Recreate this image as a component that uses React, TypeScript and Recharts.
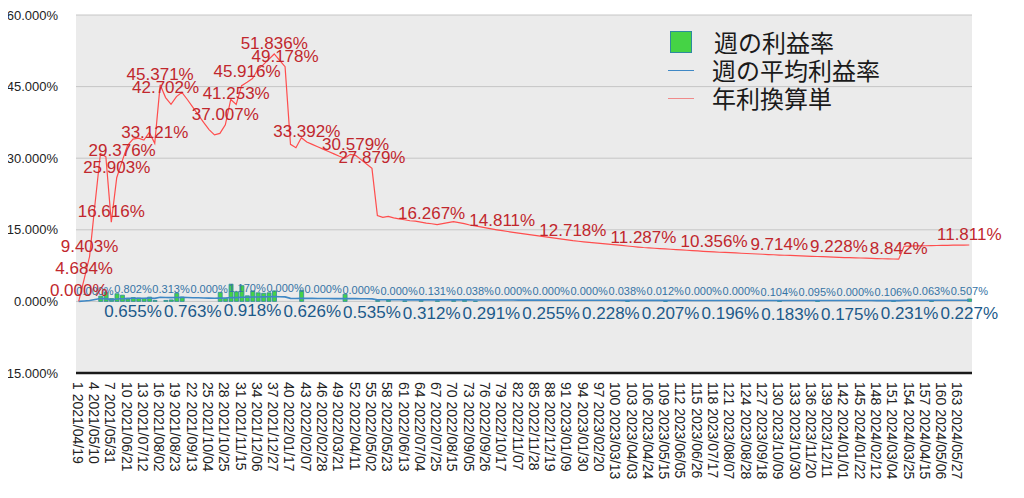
import React from 'react'
import { ComposedChart, Bar, Line, XAxis, YAxis, CartesianGrid, LabelList } from 'recharts'

// week numbers 1..165 are the categories; only every third one gets a tick label
const TICK_DATES = [
  '2021/04/19', '2021/05/10', '2021/05/31', '2021/06/21', '2021/07/12', '2021/08/02', '2021/08/23',
  '2021/09/13', '2021/10/04', '2021/10/25', '2021/11/15', '2021/12/06', '2021/12/27', '2022/01/17',
  '2022/02/07', '2022/02/28', '2022/03/21', '2022/04/11', '2022/05/02', '2022/05/23', '2022/06/13',
  '2022/07/04', '2022/07/25', '2022/08/15', '2022/09/05', '2022/09/26', '2022/10/17', '2022/11/07',
  '2022/11/28', '2022/12/19', '2023/01/09', '2023/01/30', '2023/02/20', '2023/03/13', '2023/04/03',
  '2023/04/24', '2023/05/15', '2023/06/05', '2023/06/26', '2023/07/17', '2023/08/07', '2023/08/28',
  '2023/09/18', '2023/10/09', '2023/10/30', '2023/11/20', '2023/12/11', '2024/01/01', '2024/01/22',
  '2024/02/12', '2024/03/04', '2024/03/25', '2024/04/15', '2024/05/06', '2024/05/27',
]

// 年利換算単 (%)
const ANNUAL = [
  0, 4.684, 9.403, 20.4, 31.0, 30.3, 16.616, 25.903, 29.376, 32.7,
  34.0, 34.2, 33.8, 35.4, 33.121, 45.371, 42.702, 41.3, 42.9, 43.8,
  42.3, 40.7, 39.1, 37.5, 36.0, 34.9, 35.2, 37.007, 42.3, 41.253,
  45.2, 45.916, 46.7, 48.6, 49.6, 50.7, 51.836, 50.5, 49.178, 32.9,
  32.2, 34.3, 33.392, 32.9, 32.4, 31.9, 31.4, 30.9, 30.4, 30.0,
  30.8, 30.579, 29.7, 28.8, 27.879, 18.0, 17.6, 17.8, 17.5, 17.3,
  17.1, 16.9, 16.8, 16.6, 16.4, 16.267, 16.1, 16.3, 16.5, 16.7,
  16.5, 16.3, 16.0, 15.8, 15.6, 15.4, 15.2, 15.0, 14.811, 14.64,
  14.48, 14.32, 14.15, 14.0, 13.84, 13.68, 13.52, 13.36, 13.2, 13.03,
  12.87, 12.718, 12.6, 12.49, 12.38, 12.27, 12.16, 12.05, 11.94, 11.83,
  11.72, 11.61, 11.5, 11.39, 11.287, 11.21, 11.14, 11.07, 11.0, 10.93,
  10.86, 10.79, 10.72, 10.64, 10.57, 10.5, 10.43, 10.356, 10.3, 10.25,
  10.2, 10.15, 10.09, 10.04, 9.98, 9.93, 9.88, 9.82, 9.77, 9.714,
  9.67, 9.63, 9.58, 9.54, 9.5, 9.45, 9.41, 9.36, 9.32, 9.27,
  9.228, 9.19, 9.16, 9.12, 9.09, 9.05, 9.02, 8.98, 8.94, 8.91,
  8.88, 8.842, 11.55, 11.6, 11.62, 11.64, 11.66, 11.69, 11.71, 11.73,
  11.75, 11.77, 11.79, 11.8, 11.811,
]

// 週の平均利益率 (%)
const AVERAGE = [
  0, 0.09, 0.18, 0.39, 0.6, 0.58, 0.32, 0.5, 0.56, 0.63,
  0.655, 0.66, 0.65, 0.68, 0.64, 0.87, 0.82, 0.79, 0.82, 0.84,
  0.81, 0.763, 0.75, 0.72, 0.69, 0.67, 0.68, 0.71, 0.81, 0.79,
  0.87, 0.88, 0.918, 0.93, 0.95, 0.97, 1.0, 0.97, 0.95, 0.63,
  0.62, 0.66, 0.64, 0.626, 0.62, 0.61, 0.6, 0.59, 0.58, 0.58,
  0.59, 0.59, 0.57, 0.55, 0.535, 0.35, 0.34, 0.34, 0.34, 0.33,
  0.33, 0.33, 0.32, 0.32, 0.32, 0.312, 0.31, 0.31, 0.32, 0.32,
  0.32, 0.31, 0.31, 0.3, 0.3, 0.3, 0.291, 0.29, 0.285, 0.28,
  0.28, 0.275, 0.27, 0.27, 0.265, 0.26, 0.26, 0.255, 0.25, 0.25,
  0.245, 0.245, 0.24, 0.24, 0.24, 0.235, 0.235, 0.23, 0.228, 0.227,
  0.225, 0.223, 0.22, 0.218, 0.217, 0.215, 0.213, 0.212, 0.21, 0.207,
  0.207, 0.206, 0.205, 0.204, 0.203, 0.202, 0.2, 0.199, 0.198, 0.197,
  0.196, 0.195, 0.194, 0.193, 0.192, 0.191, 0.19, 0.189, 0.188, 0.187,
  0.186, 0.183, 0.183, 0.182, 0.181, 0.181, 0.18, 0.179, 0.178, 0.178,
  0.177, 0.176, 0.175, 0.175, 0.174, 0.174, 0.173, 0.172, 0.172, 0.171,
  0.171, 0.17, 0.222, 0.231, 0.23, 0.23, 0.229, 0.229, 0.229, 0.228,
  0.228, 0.228, 0.227, 0.227, 0.227,
]

// 週の利益率 (%), weeks not listed are 0
const WEEKLY: Record<number, number> = {
  5: 1.1, 6: 1.9, 7: 0.6, 8: 1.6, 9: 1.3, 10: 0.5, 11: 0.802, 12: 0.7, 13: 0.6, 14: 0.9,
  15: 0.2, 17: 0.2, 18: 0.313, 19: 1.7, 20: 0.9, 27: 1.9, 28: 0.6, 29: 3.6, 30: 2.0, 31: 3.3,
  32: 1.17, 33: 2.2, 34: 1.8, 35: 1.7, 36: 1.8, 37: 2.2, 42: 2.3, 50: 1.5, 56: 0.2, 58: 0.3,
  61: 0.1, 64: 0.2, 67: 0.131, 70: 0.2, 72: 0.3, 74: 0.038, 102: 0.038, 109: 0.012, 130: 0.104,
  137: 0.095, 151: 0.106, 158: 0.063, 165: 0.507,
}

// weeks whose values are printed on the chart
const ANNUAL_LABEL_WEEKS = [1, 2, 3, 7, 8, 9, 15, 16, 17, 28, 30, 32, 37, 39, 43, 52, 55, 66, 79, 92, 105, 118, 130, 141, 152, 165]
const AVERAGE_LABEL_WEEKS = [11, 22, 33, 44, 55, 66, 77, 88, 99, 110, 121, 132, 143, 154, 165]
const WEEKLY_LABEL_WEEKS = [4, 11, 18, 25, 32, 39, 46, 53, 60, 67, 74, 81, 88, 95, 102, 109, 116, 123, 130, 137, 144, 151, 158, 165]

const pct = (v: number) => `${v.toFixed(3)}%`

const data = ANNUAL.map((annual, i) => {
  const n = i + 1
  const weekly = WEEKLY[n] ?? 0
  return {
    n,
    weekly,
    average: AVERAGE[i],
    annual,
    weeklyLabel: WEEKLY_LABEL_WEEKS.includes(n) ? pct(weekly) : null,
    averageLabel: AVERAGE_LABEL_WEEKS.includes(n) ? pct(AVERAGE[i]) : null,
    annualLabel: ANNUAL_LABEL_WEEKS.includes(n) ? pct(annual) : null,
  }
})

const FONT = '"Liberation Sans", "Noto Sans CJK JP", sans-serif'
const GREEN = '#45d345'
const BAR_EDGE = '#2d8a9e'
const BLUE = '#3f88c5'
const RED = '#ff4d4d'

const XTick = (props: any) => {
  const { x, y, payload } = props
  const n = payload.value
  const date = TICK_DATES[(n - 1) / 3]
  if (!date) return null
  return (
    <text transform={`translate(${x - 1},${y + 1}) rotate(90)`} textAnchor="start" dominantBaseline="central"
      fontSize={14} fill="#222" fontFamily={FONT}>
      {`${n} ${date}`}
    </text>
  )
}

const AnnualLabel = (props: any) => {
  const { x, y, value } = props
  if (!value) return null
  return <text x={x} y={y - 5} textAnchor="middle" fontSize={17} fill="#c1272d" fontFamily={FONT}>{value}</text>
}

const AverageLabel = (props: any) => {
  const { x, y, value } = props
  if (!value) return null
  return <text x={x} y={y + 19} textAnchor="middle" fontSize={17} fill="#1c5a8a" fontFamily={FONT}>{value}</text>
}

// weekly values sit just above the average line, like the small labels in the original
const WeeklyLabel = (props: any) => {
  const { x, y, value } = props
  if (!value) return null
  return <text x={x} y={y - 5} textAnchor="middle" fontSize={11} fill="#3573a5" fontFamily={FONT}>{value}</text>
}

const legendRow: React.CSSProperties = { display: 'flex', alignItems: 'center', height: 28 }

export default function App() {
  return (
    <div style={{ position: 'relative', width: 1024, height: 498, margin: -8, fontFamily: FONT }}>
      <ComposedChart width={1024} height={498} data={data} margin={{ top: 15, right: 52, bottom: 0, left: 0 }}>
        <CartesianGrid vertical={false} stroke="#c6c6c6" fill="#ebebeb" />
        <XAxis dataKey="n" interval={2} height={125} tickLine={false} axisLine={{ stroke: '#1a1a1a', strokeWidth: 2.5 }}
          tick={<XTick />} />
        <YAxis domain={[-15, 60]} ticks={[-15, 0, 15, 30, 45, 60]} width={76} tickLine={false} axisLine={false}
          tickSize={0} tickMargin={18} tickFormatter={pct} allowDataOverflow
          tick={{ fontSize: 13, fill: '#222', fontFamily: FONT }} />
        <Bar dataKey="weekly" barSize={4} fill={GREEN} stroke={BAR_EDGE} strokeWidth={0.8} isAnimationActive={false} />
        <Line dataKey="average" stroke={BLUE} strokeWidth={1.6} dot={false} isAnimationActive={false}>
          <LabelList dataKey="weeklyLabel" content={<WeeklyLabel />} />
          <LabelList dataKey="averageLabel" content={<AverageLabel />} />
        </Line>
        <Line dataKey="annual" stroke={RED} strokeWidth={1.2} dot={false} isAnimationActive={false}>
          <LabelList dataKey="annualLabel" content={<AnnualLabel />} />
        </Line>
      </ComposedChart>
      <div style={{ position: 'absolute', left: 668, top: 28, fontFamily: '"Noto Sans CJK JP", sans-serif', fontSize: 24, color: '#1a1a1a', lineHeight: '28px' }}>
        <div style={legendRow}>
          <span style={{ width: 20, height: 20, background: GREEN, border: `1.5px solid ${BAR_EDGE}`, marginLeft: 2, marginRight: 22 }} />
          週の利益率
        </div>
        <div style={legendRow}>
          <span style={{ width: 26, height: 0, borderTop: `1.5px solid ${BLUE}`, marginRight: 18 }} />
          週の平均利益率
        </div>
        <div style={legendRow}>
          <span style={{ width: 26, height: 0, borderTop: `1.5px solid #f08a8a`, marginRight: 18 }} />
          年利換算単
        </div>
      </div>
    </div>
  )
}
